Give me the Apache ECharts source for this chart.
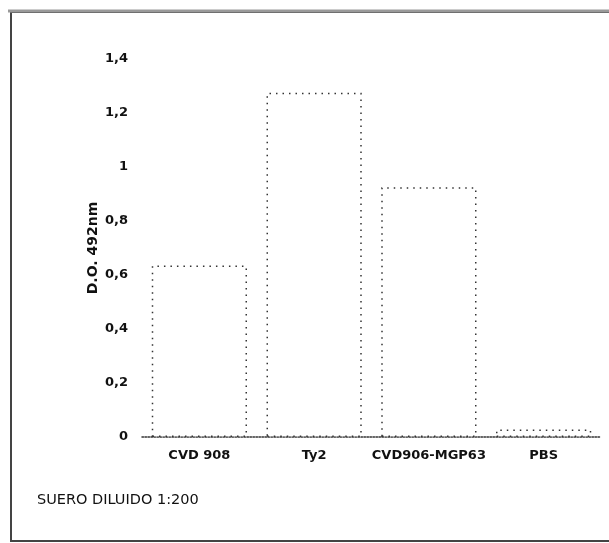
<!DOCTYPE html>
<html><head><meta charset="utf-8">
<script src="https://cdn.jsdelivr.net/npm/echarts@6/dist/echarts.min.js"></script>
<style>html,body{margin:0;padding:0;background:#fff}#c{width:609px;height:543px}</style>
</head><body><div id="c"></div>
<script>
var categories = ['CVD 908', 'Ty2', 'CVD906-MGP63', 'PBS'];
var values = [0.635, 1.275, 0.925, 0.028];
var yTicks = [0, 0.2, 0.4, 0.6, 0.8, 1, 1.2, 1.4];
var axisName = 'D.O. 492nm';
var note = 'SUERO DILUIDO 1:200';

var chart = echarts.init(document.getElementById('c'));
chart.setOption({
  backgroundColor: '#fff',
  animation: false,
  grid: { left: 142, right: 8, top: 59, bottom: 106 },
  xAxis: {
    type: 'category', data: categories,
    axisLine: { show: true, lineStyle: { color: '#333', type: 'dotted', width: 1.5 } },
    axisTick: { show: false },
    axisLabel: { interval: 0, color: '#111', fontFamily: 'DejaVu Sans', fontWeight: 'bold', fontSize: 13, margin: 12 }
  },
  yAxis: {
    type: 'value', min: 0, max: yTicks[yTicks.length - 1], interval: 0.2,
    name: axisName, nameLocation: 'middle', nameGap: 42, nameRotate: 90, nameMoveOverlap: false,
    nameTextStyle: { color: '#111', fontFamily: 'DejaVu Sans', fontWeight: 'bold', fontSize: 14 },
    axisLine: { show: false }, axisTick: { show: false }, splitLine: { show: false },
    axisLabel: {
      color: '#111', fontFamily: 'DejaVu Sans', fontWeight: 'bold', fontSize: 13, margin: 14,
      formatter: function (v) { return String(Math.round(v * 10) / 10).replace('.', ','); }
    }
  },
  series: [{
    type: 'bar', data: values, barCategoryGap: '17%',
    itemStyle: { color: '#fff', borderColor: '#333', borderWidth: 1.5, borderType: [1.5, 5] }
  }],
  graphic: [
    { type: 'rect', shape: { x: 11, y: 12, width: 620, height: 529 }, style: { fill: 'none', stroke: '#444', lineWidth: 2 } },
    { type: 'line', shape: { x1: 8, y1: 11, x2: 609, y2: 11 }, style: { stroke: '#999', lineWidth: 3 } },
    { type: 'text', left: 37, top: 493, style: { text: note, fill: '#111', font: '14.5px "DejaVu Sans"' } }
  ]
});
</script></body></html>
